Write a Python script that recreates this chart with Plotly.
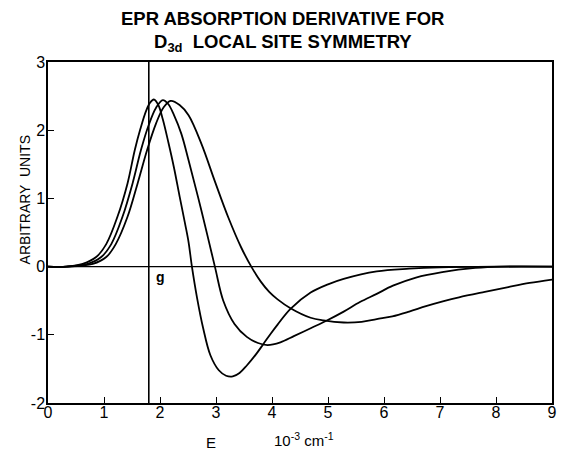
import plotly.graph_objects as go

# ---- data ----
curve_a_x = [0.0, 0.33, 0.62, 0.86, 1.04, 1.24, 1.42, 1.55, 1.65, 1.75, 1.82, 1.89, 1.97, 2.05, 2.15,
             2.25, 2.35, 2.45, 2.51, 2.57, 2.66, 2.77, 2.90, 3.05, 3.18, 3.30, 3.42, 3.55, 3.72, 3.85,
             3.98, 4.10, 4.33, 4.69, 5.0, 5.28, 5.87, 6.45, 7.0, 8.0, 9.0]
curve_a_y = [0, 0, 0.04, 0.14, 0.33, 0.73, 1.22, 1.71, 2.02, 2.28, 2.40, 2.45, 2.37, 2.16, 1.82,
             1.45, 1.03, 0.62, 0.36, 0.0, -0.45, -0.90, -1.30, -1.52, -1.60, -1.61, -1.56, -1.45, -1.28, -1.13,
             -0.98, -0.85, -0.62, -0.38, -0.26, -0.18, -0.07, -0.03, -0.01, 0, 0]

curve_b_x = [0.0, 0.33, 0.71, 0.95, 1.13, 1.33, 1.51, 1.66, 1.80, 1.93, 2.05, 2.15, 2.25, 2.38, 2.51,
             2.74, 2.98, 3.13, 3.33, 3.55, 3.75, 3.92, 4.15, 4.39, 4.70, 4.98, 5.28, 5.57, 5.87, 6.16,
             6.57, 7.04, 7.63, 8.1, 9.0]
curve_b_y = [0, 0, 0.04, 0.14, 0.33, 0.73, 1.22, 1.71, 2.08, 2.33, 2.44, 2.38, 2.22, 1.95, 1.56,
             0.82, 0.0, -0.5, -0.84, -1.03, -1.12, -1.15, -1.11, -1.02, -0.90, -0.79, -0.66, -0.52, -0.40, -0.28,
             -0.16, -0.08, -0.02, 0, 0]

curve_c_x = [0.0, 0.33, 0.80, 1.04, 1.21, 1.42, 1.60, 1.77, 1.93, 2.06, 2.19, 2.35, 2.51, 2.74, 2.98,
             3.22, 3.45, 3.63, 3.80, 3.95, 4.10, 4.33, 4.69, 4.92, 5.28, 5.60, 5.87, 6.15, 6.45, 6.75,
             7.05, 7.34, 7.80, 8.22, 8.60, 9.0]
curve_c_y = [0, 0, 0.04, 0.14, 0.33, 0.73, 1.22, 1.71, 2.10, 2.33, 2.43, 2.37, 2.22, 1.80, 1.25,
             0.72, 0.28, 0.0, -0.22, -0.37, -0.48, -0.61, -0.75, -0.79, -0.82, -0.81, -0.77, -0.73, -0.66, -0.58,
             -0.51, -0.45, -0.37, -0.30, -0.24, -0.19]

G_POSITION = 1.8
x_ticks = [0, 1, 2, 3, 4, 5, 6, 7, 8, 9]
y_ticks = [-2, -1, 0, 1, 2, 3]

FONT = "Liberation Sans"

fig = go.Figure()
for xs, ys in [(curve_a_x, curve_a_y), (curve_b_x, curve_b_y), (curve_c_x, curve_c_y)]:
    fig.add_trace(go.Scatter(x=xs, y=ys, mode="lines",
                             line=dict(color="black", width=1.8, shape="spline", smoothing=1.0),
                             showlegend=False, hoverinfo="skip"))

fig.add_shape(type="line", xref="x", yref="y", x0=G_POSITION, x1=G_POSITION, y0=-2, y1=3,
              line=dict(color="black", width=1.6))
fig.add_shape(type="line", xref="x", yref="y", x0=0, x1=9, y0=0, y1=0,
              line=dict(color="black", width=1.4))

axis_common = dict(showline=True, linecolor="black", linewidth=1.5, mirror=True,
                   ticks="inside", ticklen=6, tickwidth=1.3, tickcolor="black",
                   showgrid=False, zeroline=False,
                   tickfont=dict(family=FONT, size=16, color="black"))

fig.update_xaxes(range=[0, 9], tickvals=x_ticks, ticktext=[str(t) for t in x_ticks],
                 ticklabelstandoff=-6, **axis_common)
fig.update_yaxes(range=[-2, 3], tickvals=y_ticks, ticktext=[str(t) for t in y_ticks],
                 ticklabelstandoff=-2, **axis_common)

anns = []
for text, ypos in [("<b>EPR ABSORPTION DERIVATIVE FOR</b>", 1.129),
                   ("<b>D<sub>3d</sub>  LOCAL SITE SYMMETRY</b>", 1.055)]:
    anns.append(dict(text=text, xref="paper", yref="paper", x=0.4656, y=ypos,
                     xanchor="center", yanchor="middle", showarrow=False,
                     font=dict(family=FONT, size=18.5, color="black")))
anns.append(dict(text="ARBITRARY  UNITS", xref="paper", yref="paper", x=-0.045, y=0.595,
                 textangle=-90, xanchor="center", yanchor="middle", showarrow=False,
                 font=dict(family=FONT, size=14, color="black")))
anns.append(dict(text="E", xref="paper", yref="paper", x=0.324, y=-0.117,
                 xanchor="center", yanchor="middle", showarrow=False,
                 font=dict(family=FONT, size=15, color="black")))
anns.append(dict(text="10<sup>-3</sup> cm<sup>-1</sup>", xref="paper", yref="paper", x=0.507, y=-0.108,
                 xanchor="center", yanchor="middle", showarrow=False,
                 font=dict(family=FONT, size=15, color="black")))
anns.append(dict(text="<b>g</b>", xref="x", yref="y", x=2.01, y=-0.15,
                 xanchor="center", yanchor="middle", showarrow=False,
                 font=dict(family=FONT, size=14, color="black")))

fig.update_layout(width=563, height=450, margin=dict(l=48, r=6, t=62, b=47),
                  paper_bgcolor="white", plot_bgcolor="white", annotations=anns,
                  font=dict(family=FONT, color="black"))

fig.write_html("out.html")
